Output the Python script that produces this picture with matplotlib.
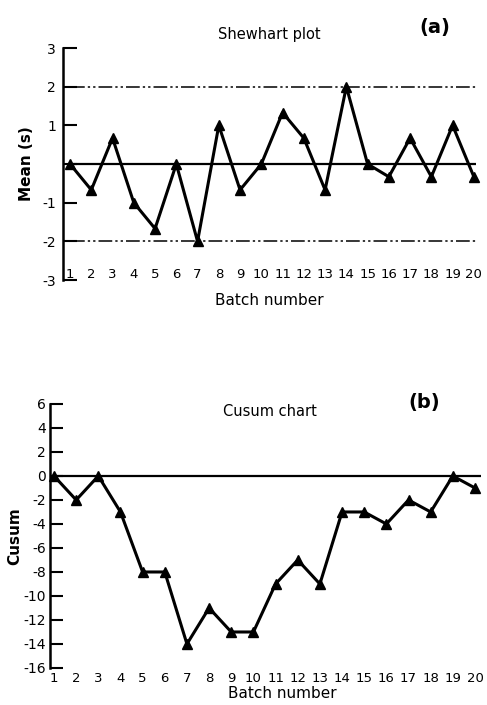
import matplotlib
matplotlib.use("Agg")
import matplotlib.pyplot as plt

batches = list(range(1, 21))
shewhart_mean = [0, -0.67, 0.67, -1, -1.67, 0, -2, 1, -0.67, 0,
                 1.33, 0.67, -0.67, 2, 0, -0.33, 0.67, -0.33, 1, -0.33]
cusum = [0, -2, 0, -3, -8, -8, -14, -11, -13, -13,
         -9, -7, -9, -3, -3, -4, -2, -3, 0, -1]
shew_yticks = [3, 2, 1, 0, -1, -2, -3]
shew_yticklabels = ["3", "2", "1", "", "-1", "-2", "-3"]
cusum_yticks = [6, 4, 2, 0, -2, -4, -6, -8, -10, -12, -14, -16]
control_limits = [2, -2]

plt.rcParams['font.family'] = ['DejaVu Sans']
plt.rcParams['axes.unicode_minus'] = False
fig = plt.figure(figsize=(4.87, 7.05), dpi=100)

# ---- (a) Shewhart plot ----
ax1 = fig.add_axes([0.1294, 0.6028, 0.848, 0.3291])
ax1.set_xlim(0.67, 20.1)
ax1.set_ylim(-3, 3)
ax1.axhline(0, xmin=0.02, xmax=1.0, color='black', lw=1.6)
for cl in control_limits:
    ax1.axhline(cl, xmin=0.02, xmax=1.0, color='black', lw=1.1,
                linestyle=(0, (9, 2, 1.5, 2, 1.5, 2)))
ax1.plot(batches, shewhart_mean, color='black', lw=2.2, marker='^',
         markersize=7, clip_on=False)
for s in ['top', 'right', 'bottom']:
    ax1.spines[s].set_visible(False)
ax1.spines['left'].set_linewidth(1.8)
ax1.set_yticks(shew_yticks)
ax1.set_yticklabels(shew_yticklabels, fontsize=10)
ax1.tick_params(axis='y', direction='in', length=10, width=1.5, pad=5)
ax1.set_xticks(batches)
ax1.set_xticklabels([str(b) for b in batches], fontsize=9.5)
ax1.tick_params(axis='x', length=0, pad=-9)
ax1.set_ylabel("Mean (s)", fontsize=11, fontweight='bold', labelpad=6)
ax1.text(0.5, -0.09, "Batch number", transform=ax1.transAxes, ha='center',
         va='center', fontsize=11)
ax1.text(0.50, 1.06, "Shewhart plot", transform=ax1.transAxes, ha='center',
         va='center', fontsize=10.5)
ax1.text(0.90, 1.09, "(a)", transform=ax1.transAxes, ha='center',
         va='center', fontsize=14, fontweight='bold')

# ---- (b) Cusum chart ----
ax2 = fig.add_axes([0.1027, 0.0525, 0.884, 0.3745])
ax2.set_xlim(0.82, 20.25)
ax2.set_ylim(-16, 6)
ax2.axhline(0, color='black', lw=1.6)
ax2.plot(batches, cusum, color='black', lw=2.2, marker='^',
         markersize=7, clip_on=False)
for s in ['top', 'right', 'bottom']:
    ax2.spines[s].set_visible(False)
ax2.spines['left'].set_linewidth(1.8)
ax2.set_yticks(cusum_yticks)
ax2.set_yticklabels([str(v) for v in cusum_yticks], fontsize=10)
ax2.tick_params(axis='y', direction='in', length=9, width=1.5, pad=3)
ax2.set_xticks(batches)
ax2.set_xticklabels([str(b) for b in batches], fontsize=9.5)
ax2.tick_params(axis='x', length=0, pad=3)
ax2.set_ylabel("Cusum", fontsize=11, fontweight='bold', labelpad=1)
ax2.text(0.54, -0.095, "Batch number", transform=ax2.transAxes, ha='center',
         va='center', fontsize=11)
ax2.text(0.51, 0.97, "Cusum chart", transform=ax2.transAxes, ha='center',
         va='center', fontsize=10.5)
ax2.text(0.87, 1.005, "(b)", transform=ax2.transAxes, ha='center',
         va='center', fontsize=14, fontweight='bold')

fig.savefig("out.png", dpi=100)
